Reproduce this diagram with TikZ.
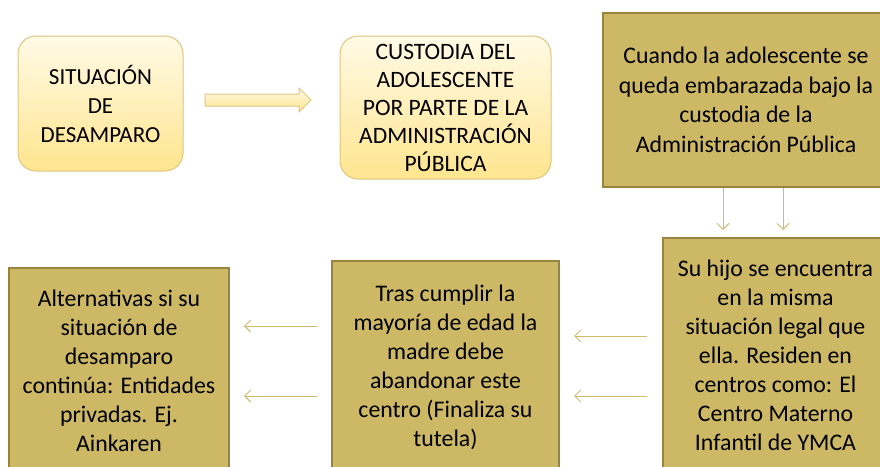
\documentclass[tikz,border=0pt]{standalone}
\usepackage{fontspec}
\setmainfont{Carlito}
\usetikzlibrary{arrows.meta}
\definecolor{softtop}{HTML}{FFFAE6}
\definecolor{softbot}{HTML}{FFE58F}
\definecolor{softedge}{HTML}{DCC57E}
\definecolor{goldfill}{HTML}{CDB965}
\definecolor{goldedge}{HTML}{97853F}
\definecolor{arrowc}{HTML}{D2BA6C}
\begin{document}
\begin{tikzpicture}[x=1pt,y=-1pt,
  soft/.style={draw=softedge, line width=1pt, rounded corners=18pt, top color=softtop, bottom color=softbot, align=center, inner sep=0pt},
  gold/.style={draw=goldedge, line width=2pt, fill=goldfill, align=center, inner sep=0pt},
  conn/.style={draw=arrowc, line width=1pt, -{Straight Barb[length=6pt,width=12pt]}},
  bigfont/.style={font=\fontsize{23.8}{29}\selectfont},
  midfont/.style={font=\fontsize{23.5}{28}\selectfont}]
\useasboundingbox (0,0) rectangle (880,466);
\clip (0,0) rectangle (880,466);

\node[soft, font=\fontsize{23}{29}\selectfont, minimum width=165pt, minimum height=135pt] (b1) at (100.5,103.5) {SITUACIÓN\\DE\\DESAMPARO};
\node[soft, midfont, minimum width=211pt, minimum height=143pt] (b2) at (445.5,107.5) {CUSTODIA DEL\\ADOLESCENTE\\POR PARTE DE LA\\ADMINISTRACIÓN\\PÚBLICA};
\node[gold, font=\fontsize{23.8}{29.5}\selectfont, minimum width=286pt, minimum height=174pt] (b3) at (746,100) {Cuando la adolescente se\\queda embarazada bajo la\\custodia de la\\Administración Pública};
\node[gold, bigfont, minimum width=225pt, minimum height=234pt] (b4) at (775.5,355) {Su hijo se encuentra\\en la misma\\situación legal que\\ella. Residen en\\centros como: El\\Centro Materno\\Infantil de YMCA};
\node[gold, bigfont, minimum width=227pt, minimum height=213pt] (b5) at (445.5,367.5) {Tras cumplir la\\mayoría de edad la\\madre debe\\abandonar este\\centro (Finaliza su\\tutela)};
\node[gold, bigfont, minimum width=220pt, minimum height=206pt] (b6) at (119,371) {Alternativas si su\\situación de\\desamparo\\continúa: Entidades\\privadas. Ej.\\Ainkaren};

% hollow block arrow
\path[draw=softedge, line width=1pt, top color=softtop, bottom color=softbot]
  (205,94) -- (299,94) -- (299,88) -- (311,100) -- (299,112) -- (299,106) -- (205,106) -- cycle;

% down arrows
\coordinate (d1) at (723,230);
\coordinate (d2) at (783,230);
\draw[conn] (d1 |- b3.south) -- (d1);
\draw[conn] (d2 |- b3.south) -- (d2);

% left arrows
\coordinate (r1) at (600,336);
\coordinate (r2) at (600,396);
\coordinate (l1) at (280,326);
\coordinate (l2) at (280,396);
\draw[conn, shorten <=15pt, shorten >=14pt] (b4.west |- r1) -- (b5.east |- r1);
\draw[conn, shorten <=15pt, shorten >=14pt] (b4.west |- r2) -- (b5.east |- r2);
\draw[conn, shorten <=14pt, shorten >=14pt] (b5.west |- l1) -- (b6.east |- l1);
\draw[conn, shorten <=14pt, shorten >=14pt] (b5.west |- l2) -- (b6.east |- l2);
\end{tikzpicture}
\end{document}
